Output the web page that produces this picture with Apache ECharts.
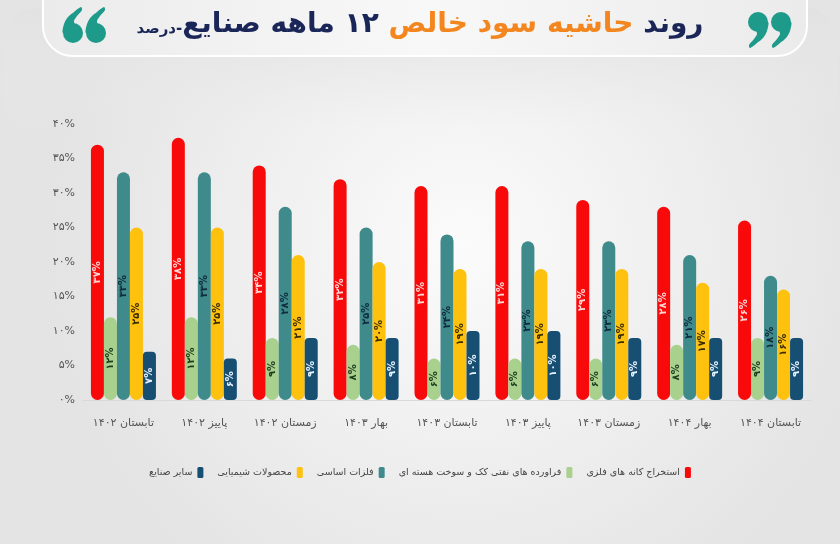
<!DOCTYPE html>
<html>
<head>
<meta charset="utf-8">
<script src="https://cdn.jsdelivr.net/npm/echarts@6/dist/echarts.min.js"></script>
<style>
html, body { margin: 0; padding: 0; }
#main { width: 840px; height: 544px; }
</style>
</head>
<body>
<div id="main"></div>
<script>
// فصل ها
var periods = ['تابستان ۱۴۰۲', 'پاییز ۱۴۰۲', 'زمستان ۱۴۰۲', 'بهار ۱۴۰۳', 'تابستان ۱۴۰۳',
	'پاییز ۱۴۰۳', 'زمستان ۱۴۰۳', 'بهار ۱۴۰۴', 'تابستان ۱۴۰۴'];

var seriesNames = ['استخراج کانه های فلزی', 'فراورده های نفتی کک و سوخت هسته ای',
	'فلزات اساسی', 'محصولات شیمیایی', 'سایر صنایع'];

// درصد حاشیه سود خالص
var mining = [37, 38, 34, 32, 31, 31, 29, 28, 26];
var petroleum = [12, 12, 9, 8, 6, 6, 6, 8, 9];
var metals = [33, 33, 28, 25, 24, 23, 23, 21, 18];
var chemicals = [25, 25, 21, 20, 19, 19, 19, 17, 16];
var others = [7, 6, 9, 9, 10, 10, 9, 9, 9];

var yTicks = [0, 5, 10, 15, 20, 25, 30, 35, 40];

var barColors = ['#f90a0a', '#a9d18e', '#3f8a8b', '#fec10d', '#174f73'];
var labelColors = ['#ffd6d6', '#1d3b1d', '#0f2a3c', '#3b2c00', '#e8f3ff'];
var radii = [7, 7, 7, 7, 4];

function fa(n) {
	return String(n).replace(/[0-9]/g, function(d) {
		return '۰۱۲۳۴۵۶۷۸۹'[+d];
	});
}

var FONT = 'DejaVu Sans';
var TEAL = '#1d9a8a';

// یک علامت نقل قول: دایره + دنباله
function quote(x, y, rot) {
	return {
		type: 'group',
		x: x, y: y, rotation: rot,
		children: [
			{type: 'circle', shape: {cx: 0, cy: 0, r: 10}, style: {fill: TEAL}},
			{
				type: 'polygon',
				shape: {
					points: [[10, 0], [9, 9], [5, 16], [-1, 21], [-8, 26], [-9, 23], [-4, 17], [-1, 12], [-2, 6]],
					smooth: 0.3
				},
				style: {fill: TEAL}
			}
		]
	};
}

var myChart = echarts.init(document.getElementById('main'));

var allData = [mining, petroleum, metals, chemicals, others];
var series = [];
allData.forEach(function(d, i) {
	series.push({
		name: seriesNames[i],
		type: 'bar',
		data: d,
		barWidth: 13,
		barGap: '0%',
		itemStyle: {
			color: barColors[i],
			borderRadius: radii[i]
		},
		label: {
			show: true,
			position: 'inside',
			rotate: 90,
			fontFamily: FONT,
			fontSize: 10,
			fontWeight: 'bold',
			color: labelColors[i],
			formatter: function(p) { return fa(p.value) + '%'; }
		}
	});
});

var option = {
	backgroundColor: {
		type: 'radial', x: 0.55, y: 0.45, r: 0.75,
		colorStops: [
			{offset: 0, color: '#fbfbfb'},
			{offset: 1, color: '#e4e4e4'}
		]
	},
	textStyle: {fontFamily: FONT},
	graphic: [
		{
			type: 'rect',
			shape: {x: 3, y: 8, width: 835, height: 120, r: 32},
			style: {
				fill: {
					type: 'linear', x: 0, y: 0, x2: 0, y2: 1,
					colorStops: [
						{offset: 0, color: '#e2e2e2'},
						{offset: 1, color: 'rgba(235,235,235,0)'}
					]
				}
			},
			z: -10
		},
		{
			type: 'rect',
			shape: {x: 43, y: -30, width: 764, height: 86, r: 30},
			style: {
				fill: {
					type: 'linear', x: 0, y: 0, x2: 1, y2: 0,
					colorStops: [
						{offset: 0, color: '#ebebeb'},
						{offset: 0.5, color: '#f8f8f8'},
						{offset: 1, color: '#ebebeb'}
					]
				},
				stroke: '#ffffff',
				lineWidth: 2
			},
			z: -5
		},
		{
			type: 'text',
			left: 'center',
			top: 11,
			style: {
				text: '{s|درصد-}{n|\u200F۱۲ ماهه صنایع }{o|حاشیه سود خالص }{n|روند}',
				rich: {
					s: {fontFamily: FONT, fontSize: 15, fontWeight: 'bold', fill: '#1b2658', padding: [8, 0, 0, 0]},
					n: {fontFamily: FONT, fontSize: 28, fontWeight: 'bold', fill: '#1b2658'},
					o: {fontFamily: FONT, fontSize: 28, fontWeight: 'bold', fill: '#f3861e'}
				}
			}
		},
		quote(758, 22, 0),
		quote(781, 22, 0),
		quote(96, 33, Math.PI),
		quote(73, 33, Math.PI)
	],
	legend: {
		data: seriesNames.slice().reverse(),
		left: 'center',
		top: 462,
		align: 'right',
		icon: 'roundRect',
		itemWidth: 6,
		itemHeight: 11,
		itemGap: 14,
		textStyle: {fontFamily: FONT, fontSize: 9.5, color: '#444'}
	},
	grid: {left: 83, right: 29, top: 124, bottom: 144},
	xAxis: {
		type: 'category',
		data: periods,
		axisLine: {lineStyle: {color: '#d9d9d9'}},
		axisTick: {show: false},
		axisLabel: {interval: 0, margin: 18, fontFamily: FONT, fontSize: 11, color: '#555'}
	},
	yAxis: {
		type: 'value',
		min: yTicks[0],
		max: yTicks[yTicks.length - 1],
		interval: 5,
		splitLine: {show: false},
		axisLine: {show: false},
		axisTick: {show: false},
		axisLabel: {
			fontFamily: FONT, fontSize: 11, color: '#555', margin: 8,
			formatter: function(v) { return fa(v) + '%'; }
		}
	},
	series: series
};
myChart.setOption(option);
</script>
</body>
</html>
